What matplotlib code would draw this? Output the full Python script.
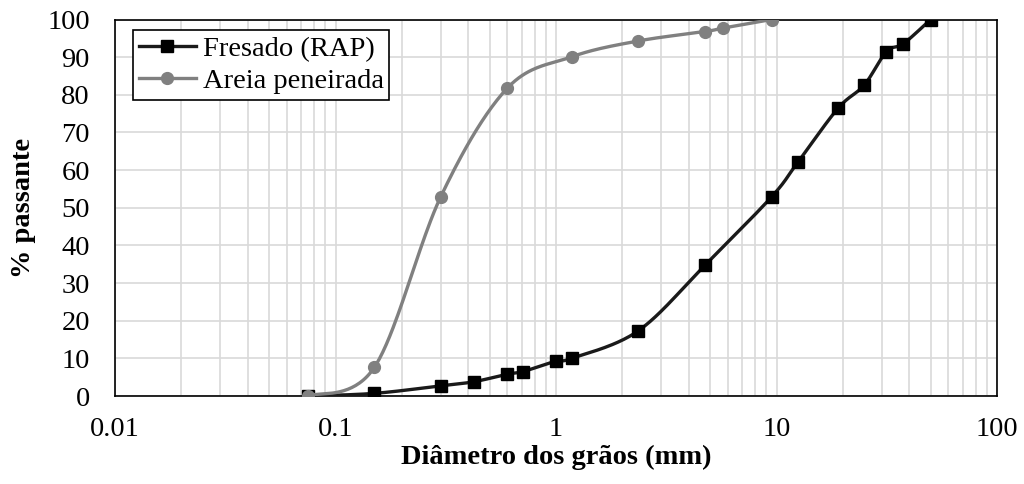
import numpy as np
import matplotlib
matplotlib.use("Agg")
import matplotlib.pyplot as plt
from matplotlib.ticker import FixedLocator, LogLocator, NullFormatter, FixedFormatter

plt.rcParams['font.family'] = ['Liberation Serif', 'DejaVu Serif']

# Data
rap_d = [0.075, 0.15, 0.3, 0.425, 0.6, 0.71, 1.0, 1.18, 2.36, 4.75, 9.5, 12.5, 19.0, 25.0, 31.5, 37.5, 50.0]
rap_p = [0.0, 0.7, 2.7, 3.8, 5.8, 6.5, 9.3, 10.0, 17.3, 34.8, 52.9, 62.1, 76.4, 82.6, 91.5, 93.5, 100.0]
areia_d = [0.075, 0.15, 0.3, 0.6, 1.18, 2.36, 4.75, 5.7, 9.5]
areia_p = [0.0, 7.6, 52.9, 81.7, 90.1, 94.3, 96.8, 97.7, 100.0]

x_ticks = [0.01, 0.1, 1, 10, 100]
x_tick_labels = ["0.01", "0.1", "1", "10", "100"]
y_ticks = list(range(0, 101, 10))

series_names = ["Fresado (RAP)", "Areia peneirada"]


def smooth(xs, ys, n=40):
    # Excel-like smoothed line: cubic Bezier with Catmull-Rom control points,
    # computed in log-x display space
    u = np.log10(np.asarray(xs, float)) * 220.5
    v = np.asarray(ys, float) * 3.765
    P = np.column_stack([u, v])
    out = [P[0]]
    m = len(P)
    for i in range(m - 1):
        p0 = P[i - 1] if i > 0 else P[i]
        p1 = P[i]
        p2 = P[i + 1]
        p3 = P[i + 2] if i + 2 < m else P[i + 1]
        c1 = p1 + (p2 - p0) / 6.0
        c2 = p2 - (p3 - p1) / 6.0
        t = np.linspace(0, 1, n)[1:, None]
        b = ((1 - t) ** 3) * p1 + 3 * ((1 - t) ** 2) * t * c1 + 3 * (1 - t) * t ** 2 * c2 + t ** 3 * p2
        out.extend(b)
    out = np.array(out)
    return 10 ** (out[:, 0] / 220.5), out[:, 1] / 3.765


FS = 20.5

fig = plt.figure(figsize=(10.24, 4.84), dpi=100)
ax = fig.add_axes([115 / 1024, 1 - 396 / 484, (997 - 115) / 1024, (396 - 19.5) / 484])

ax.set_xscale('log')
ax.set_xlim(0.01, 100)
ax.set_ylim(0, 100)

grid_c = '#d9d9d9'
ax.xaxis.set_major_locator(FixedLocator(x_ticks))
ax.xaxis.set_major_formatter(FixedFormatter(x_tick_labels))
ax.xaxis.set_minor_locator(LogLocator(base=10, subs=np.arange(2, 10)))
ax.xaxis.set_minor_formatter(NullFormatter())
ax.set_yticks(y_ticks)
ax.grid(True, which='major', axis='both', color=grid_c, linewidth=1.2, zorder=0)
ax.grid(True, which='minor', axis='x', color=grid_c, linewidth=1.2, zorder=0)
ax.set_axisbelow(True)
ax.tick_params(which='both', length=0, labelsize=FS)
ax.tick_params(axis='x', pad=15)
ax.tick_params(axis='y', pad=18)

for s in ax.spines.values():
    s.set_color('black')
    s.set_linewidth(1.2)

sx, sy = smooth(rap_d, rap_p)
ax.plot(sx, sy, color='#1a1a1a', linewidth=2.4, zorder=3)
ax.plot(rap_d, rap_p, linestyle='none', marker='s', markersize=9, color='black', zorder=4)
h1, = ax.plot([], [], color='#1a1a1a', linewidth=2.4, marker='s', markersize=9,
              markerfacecolor='black', markeredgecolor='black')

gx, gy = smooth(areia_d, areia_p)
ax.plot(gx, gy, color='#808080', linewidth=2.4, zorder=5)
ax.plot(areia_d, areia_p, linestyle='none', marker='o', markersize=8.5, color='#808080', zorder=6)
h2, = ax.plot([], [], color='#808080', linewidth=2.4, marker='o', markersize=8.5)

leg = ax.legend([h1, h2], series_names, loc='upper left', bbox_to_anchor=(18 / 882, 1 - 10.5 / 376.5),
                fontsize=FS, frameon=True, fancybox=False, shadow=False, borderpad=0.2,
                handlelength=2.0, handletextpad=0.25, labelspacing=0.22, borderaxespad=0)
leg.get_frame().set_edgecolor('black')
leg.get_frame().set_linewidth(1.2)
leg.get_frame().set_alpha(1)

ax.set_xlabel('Diâmetro dos grãos (mm)', fontsize=FS, fontweight='bold', labelpad=2)
ax.set_ylabel('% passante', fontsize=FS, fontweight='bold', labelpad=8)

fig.savefig('out.png', dpi=100)
